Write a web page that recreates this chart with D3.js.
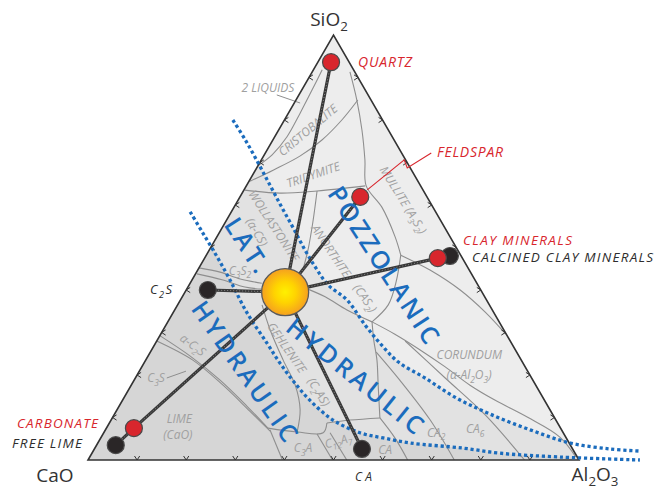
<!DOCTYPE html>
<html><head><meta charset="utf-8">
<script src="https://cdn.jsdelivr.net/npm/d3@7"></script>
<style>body{margin:0;background:#fff}svg{display:block}</style>
</head><body>
<svg id="c" width="656" height="489"></svg>
<script>
// ================= DATA (ternary: [SiO2 %, Al2O3 %], CaO = remainder) =================
const vertexNames = ["SiO_2", "CaO", "Al_2O_3"];
const tickFractions = [10, 20, 30, 40, 50, 60, 70, 80, 90];

const materialNames = ["Clinker", "Quartz", "Feldspar", "Clay minerals", "Calcined clay minerals", "C_2S", "Carbonate", "Free lime", "CA"];
const materialSiO2  = [39.5, 93.6, 61.9, 47.5, 48.0, 40.0, 7.5, 3.5, 2.6];
const materialAl2O3 = [20.4, 2.7, 24.5, 47.5, 49.7, 4.4, 5.6, 3.9, 54.5];
const materialKind  = ["sun", "red", "red", "red", "black", "black", "red", "black", "black"];
const connections = [["Clinker","Quartz"],["Clinker","Feldspar"],["Clinker","Clay minerals"],["Clinker","C_2S"],["Clinker","Carbonate"],["Carbonate","Free lime"],["Clinker","CA"]];

// reactivity limits (blue dotted curves)
const pozzolanicLimit = [[80.0,-10.5],[75.3,-5.6],[69.9,-0.3],[64.7,4.7],[59.5,9.7],[54.6,14.5],[49.4,19.5],[45.2,23.8],[41.2,28.3],[37.6,34.0],[31.8,40.5],[27.5,45.7],[23.1,51.6],[19.3,59.0],[14.8,67.3],[10.8,76.5],[7.1,86.5],[4.0,96.2],[2.6,105.0],[2.1,111.3]];
const hydraulicLimit = [[58.4,-8.4],[53.4,-3.3],[47.8,2.4],[42.4,7.7],[34.6,15.1],[27.5,22.7],[22.8,27.7],[18.6,32.5],[14.1,38.1],[9.4,45.2],[6.4,52.2],[5.2,57.5],[4.0,63.6],[2.8,75.0],[1.6,83.1],[0.7,95.8],[0,112.4]];

// phase-field boundaries
const twoLiquidBoundary  = [[91.8,1.8],[87.1,2.1],[81.6,2.4],[76.0,2.5],[71.8,1.6],[69.4,0.1]];
const cristobaliteBoundary = [[84.7,12.6],[80.0,11.7],[75.3,10.0],[71.5,7.4],[68.2,3.6],[65.6,0.2]];
const tridymiteBoundary  = [[63.5,0.2],[62.8,7.7],[63.3,15.0],[64.5,24.2]];
const silicaMulliteBoundary = [[91.3,7.7],[84.7,12.4],[77.6,17.0],[70.6,21.1],[64.5,24.4],[59.5,30.1],[52.5,36.3],[48.2,39.6]];
const mulliteCorundumBoundary = [[48.2,39.6],[44.7,47.3],[40.0,55.8],[34.8,63.5],[29.6,70.3]];
const anorthiteCorundumBoundary = [[48.2,39.6],[41.9,41.8],[36.5,42.9],[32.5,41.6]];
const corundumLowerBoundary = [[32.5,41.6],[29.6,47.7],[25.9,54.7],[21.9,61.8],[17.6,69.0],[14.1,75.8],[10.1,84.4],[5.4,93.4],[0.7,99.0]];
const wollastoniteAnorthiteBoundary = [[63.3,15.0],[56.0,17.8],[49.4,20.1],[44.7,21.4]];
const anorthiteGehleniteBoundary = [[40.5,23.9],[38.4,29.1],[35.3,35.1],[32.5,41.6]];
const gehleniteRightBoundary = [[32.5,41.6],[28.2,44.1],[23.5,47.1],[17.6,50.3],[9.9,54.5]];
const gehleniteLowerBoundary = [[8.7,44.3],[9.4,48.7],[9.9,54.5]];
const caCa2Boundary = [[9.9,54.5],[5.2,59.9],[0,65.1]];
const ca2Ca6Boundary = [[25.4,46.0],[18.8,54.1],[9.4,65.0],[0,74.6]];
const ca6Boundary = [[28.0,50.6],[19.3,63.1],[10.6,75.6],[0,88.9]];
const c3s2UpperBoundary = [[45.2,0],[44.2,4.8],[42.6,9.7],[41.6,14.6]];
const c3s2LowerBoundary = [[43.8,0.3],[42.4,6.1],[40.7,11.6],[40.2,15.3]];
const c2sGehleniteBoundary = [[36.5,17.2],[30.6,21.8],[23.5,28.0],[17.6,33.4],[11.8,37.3],[6.6,39.3]];
const limeBoundary = [[29.2,0.1],[24.5,8.5],[18.8,17.5],[12.7,26.0],[7.5,32.9]];
const c3sBoundary = [[28.0,0],[23.5,9.6],[17.6,18.7],[11.5,27.2],[6.8,33.7]];
const c3aUpperBoundary = [[7.5,32.9],[6.6,39.3],[6.4,44.7],[8.7,44.3]];
const c3aLeftBoundary = [[7.1,33.5],[0,39.6]];
const c12a7LeftBoundary = [[6.1,43.6],[0,49.8]];
const c12a7RightBoundary = [[6.4,46.1],[0,52.7]];
const labelLeaders = [[[85.9,-4.5],[84.0,1.2]], [[19.3,6.4],[20.9,9.5]]];

// phase field names
const phaseNames  = ["2 LIQUIDS","CRISTOBALITE","TRIDYMITE","WOLLASTONITE","(α-CS)","C_3S_2","ANORTHITE","(CAS_2)","MULLITE (A_3S_2)","CORUNDUM","(α-Al_2O_3)","GEHLENITE","(C_2AS)","α-C_2S","C_3S","LIME","(CaO)","C_3A","C_12A_7","CA","CA_2","CA_6"];
const phaseSiO2   = [87.5, 77.6, 67.1, 55.1, 53.6, 44.5, 49.2, 38.1, 61.2, 24.7, 20.0, 26.4, 16.0, 27.1, 19.3, 9.8, 6.0, 2.8, 4.5, 2.4, 6.4, 7.3];
const phaseAl2O3  = [-7.1, 6.0, 12.3, 10.3, 7.6, 8.7, 24.9, 37.4, 33.6, 65.3, 67.6, 27.3, 39.0, 7.8, 4.2, 13.7, 15.3, 42.4, 48.7, 59.3, 67.7, 75.2];

// reactivity zone names
const zoneNames = ["POZZOLANIC", "LAT.", "HYDRAULIC", "HYDRAULIC"];
const zoneSiO2  = [45.9, 50.6, 20.9, 19.8];
const zoneAl2O3 = [37.3, 7.1, 21.5, 44.5];

// ================= LAYOUT / STYLE =================
const phaseAngles = [0,-40,-19,57,60,0,56,55,58,0,0,55,58,37,0,0,0,0,-15,0,0,0];
const zoneAngles = [57, 57, 55, 39];
const zoneLengths = [182, 60, 165, 168];
const RED = "#d8262d", DARK = "#2d2d2d", BLUE = "#1b6cbd", GREYTXT = "#a0a0a0";
const FONT = "'Open Sans', 'DejaVu Sans', sans-serif";
const PH = 12;

const svg = d3.select("#c");
const xS = d3.scaleLinear().domain([0, 100]).range([88, 579]);
const yS = d3.scaleLinear().domain([0, 100]).range([460, 35]);
const proj = ([s, a]) => [xS(a + s / 2), yS(s)];

function rich(sel, str, fs) {
  const parts = str.split(/(_\d+)/).filter(p => p.length);
  let down = false;
  parts.forEach(p => {
    if (p[0] === "_") {
      sel.append("tspan").attr("font-size", fs * 0.7).attr("dy", down ? 0 : fs * 0.28).text(p.slice(1));
      down = true;
    } else {
      const t = sel.append("tspan").text(p);
      if (down) { t.attr("dy", -fs * 0.28); down = false; }
    }
  });
}

const defs = svg.append("defs");
const corners = [[0, 0], [0, 100], [100, 0]].map(proj);
defs.append("clipPath").attr("id", "tri").append("polygon").attr("points", corners.map(p => p.join(",")).join(" "));
const g = defs.append("radialGradient").attr("id", "sun").attr("cx", "50%").attr("cy", "50%").attr("r", "50%");
g.append("stop").attr("offset", "0%").attr("stop-color", "#fff000");
g.append("stop").attr("offset", "45%").attr("stop-color", "#ffd400");
g.append("stop").attr("offset", "100%").attr("stop-color", "#f5a020");

// ---- shaded zones ----
const zones = svg.append("g").attr("clip-path", "url(#tri)");
zones.append("polygon").attr("points", corners.map(p => p.join(",")).join(" ")).attr("fill", "#ededed");
const bandPts = pozzolanicLimit.concat(hydraulicLimit.slice().reverse()).map(proj);
zones.append("polygon").attr("points", bandPts.map(p => p.join(",")).join(" ")).attr("fill", "#e2e2e2");
const hydPts = hydraulicLimit.concat([[-10, 130], [-10, -30], [60, -40]]).map(proj);
zones.append("polygon").attr("points", hydPts.map(p => p.join(",")).join(" ")).attr("fill", "#d6d6d6");

// ---- phase boundaries ----
const boundaries = [twoLiquidBoundary, cristobaliteBoundary, tridymiteBoundary, silicaMulliteBoundary, mulliteCorundumBoundary, anorthiteCorundumBoundary, corundumLowerBoundary, wollastoniteAnorthiteBoundary, anorthiteGehleniteBoundary, gehleniteRightBoundary, gehleniteLowerBoundary, caCa2Boundary, ca2Ca6Boundary, ca6Boundary, c3s2UpperBoundary, c3s2LowerBoundary, c2sGehleniteBoundary, limeBoundary, c3sBoundary, c3aUpperBoundary, c3aLeftBoundary, c12a7LeftBoundary, c12a7RightBoundary];
const smooth = d3.line().curve(d3.curveCatmullRom.alpha(0.5));
const bg = svg.append("g").attr("clip-path", "url(#tri)");
boundaries.forEach(b => bg.append("path").attr("d", smooth(b.map(proj))).attr("fill", "none").attr("stroke", "#8e8e8e").attr("stroke-width", 1.1));
labelLeaders.forEach(b => svg.append("path").attr("d", d3.line()(b.map(proj))).attr("fill", "none").attr("stroke", "#8e8e8e").attr("stroke-width", 1));

// ---- triangle & ticks ----
svg.append("polygon").attr("points", corners.map(p => p.join(",")).join(" ")).attr("fill", "none").attr("stroke", "#333").attr("stroke-width", 1.6).attr("stroke-linejoin", "miter");
const tk = svg.append("g").attr("fill", "none").attr("stroke", "#333").attr("stroke-width", 1);
tickFractions.forEach(f => {
  let [x, y] = proj([0, f]);
  tk.append("path").attr("d", `M${x-2.6},${y-4}L${x},${y}L${x+2.6},${y-4}`);
  [x, y] = proj([f, 0]);
  tk.append("path").attr("d", `M${x+4},${y-2.6}L${x},${y}L${x+4},${y+2.6}`);
  [x, y] = proj([f, 100 - f]);
  tk.append("path").attr("d", `M${x-4},${y-2.6}L${x},${y}L${x-4},${y+2.6}`);
});

// ---- phase labels ----
phaseNames.forEach((n, i) => {
  const [x, y] = proj([phaseSiO2[i], phaseAl2O3[i]]);
  const t = svg.append("text").attr("transform", `translate(${x},${y}) rotate(${phaseAngles[i]})`)
    .attr("text-anchor", "middle").attr("dy", "0.35em").attr("font-family", FONT).attr("font-style", "italic")
    .attr("font-size", PH).attr("fill", GREYTXT);
  rich(t, n, PH);
});

// ---- blue dotted limits ----
[pozzolanicLimit, hydraulicLimit].forEach(c => svg.append("path").attr("d", smooth(c.map(proj))).attr("fill", "none")
  .attr("stroke", BLUE).attr("stroke-width", 3.3).attr("stroke-dasharray", "3.2 2.8"));

// ---- connectors ----
const idx = n => materialNames.indexOf(n);
const pos = n => proj([materialSiO2[idx(n)], materialAl2O3[idx(n)]]);
connections.forEach(([a, b]) => {
  const [p, q] = [pos(a), pos(b)];
  svg.append("line").attr("x1", p[0]).attr("y1", p[1]).attr("x2", q[0]).attr("y2", q[1]).attr("stroke", "#383838").attr("stroke-width", 3.2);
  svg.append("line").attr("x1", p[0]).attr("y1", p[1]).attr("x2", q[0]).attr("y2", q[1]).attr("stroke", "#8a8a8a").attr("stroke-width", 1).attr("stroke-dasharray", "1 2");
});

// feldspar leader
const fp = pos("Feldspar");
svg.append("path").attr("d", d3.line()([[fp[0]+7, fp[1]-7], [fp[0]+44, fp[1]-37], [fp[0]+47, fp[1]-29], [fp[0]+71, fp[1]-44]]))
  .attr("fill", "none").attr("stroke", RED).attr("stroke-width", 1.1);

// ---- dots ----
const order = ["Calcined clay minerals", "Clay minerals", "Quartz", "Feldspar", "C_2S", "Free lime", "Carbonate", "CA", "Clinker"];
order.forEach(n => {
  const i = idx(n), [x, y] = pos(n), k = materialKind[i];
  if (k === "sun") svg.append("circle").attr("cx", x).attr("cy", y).attr("r", 23.5).attr("fill", "url(#sun)").attr("stroke", "#5a5a5a").attr("stroke-width", 1.3);
  else svg.append("circle").attr("cx", x).attr("cy", y).attr("r", 8.5).attr("fill", k === "red" ? RED : "#2a2627").attr("stroke", "#4a4a4a").attr("stroke-width", 1.2);
});

// ---- zone names ----
zoneNames.forEach((n, i) => {
  const [x, y] = proj([zoneSiO2[i], zoneAl2O3[i]]);
  svg.append("text").attr("transform", `translate(${x},${y}) rotate(${zoneAngles[i]})`)
    .attr("text-anchor", "middle").attr("dy", "0.36em").attr("font-family", FONT).attr("font-weight", 600)
    .attr("font-size", 25).attr("fill", BLUE).attr("textLength", zoneLengths[i]).attr("lengthAdjust", "spacing").text(n);
});

// ---- material labels ----
const materialLabels = [
  {t: "QUARTZ", x: 358, y: 67, c: RED, s: 14, len: 54},
  {t: "FELDSPAR", x: 437, y: 157, c: RED, s: 14, len: 66},
  {t: "CLAY MINERALS", x: 463, y: 245, c: RED, s: 13.5, len: 109},
  {t: "CALCINED CLAY MINERALS", x: 472, y: 262, c: DARK, s: 13.5, len: 181},
  {t: "CARBONATE", x: 17, y: 428, c: RED, s: 13.5, len: 81},
  {t: "FREE LIME", x: 12, y: 448, c: DARK, s: 13.5, len: 70},
  {t: "C_2S", x: 150, y: 294, c: DARK, s: 13, len: 22},
  {t: "CA", x: 355, y: 481, c: DARK, s: 12, len: 17}
];
materialLabels.forEach(l => {
  const t = svg.append("text").attr("x", l.x).attr("y", l.y).attr("font-family", FONT).attr("font-style", "italic")
    .attr("font-size", l.s).attr("fill", l.c).attr("textLength", l.len).attr("lengthAdjust", "spacing");
  rich(t, l.t, l.s);
});

// ---- vertex labels ----
const vertexPos = [[329, 26], [55, 482], [595, 481]];
vertexNames.forEach((n, i) => {
  const t = svg.append("text").attr("x", vertexPos[i][0]).attr("y", vertexPos[i][1]).attr("text-anchor", "middle")
    .attr("font-family", FONT).attr("font-size", 19).attr("fill", "#333");
  rich(t, n, 19);
});
</script>
</body></html>
